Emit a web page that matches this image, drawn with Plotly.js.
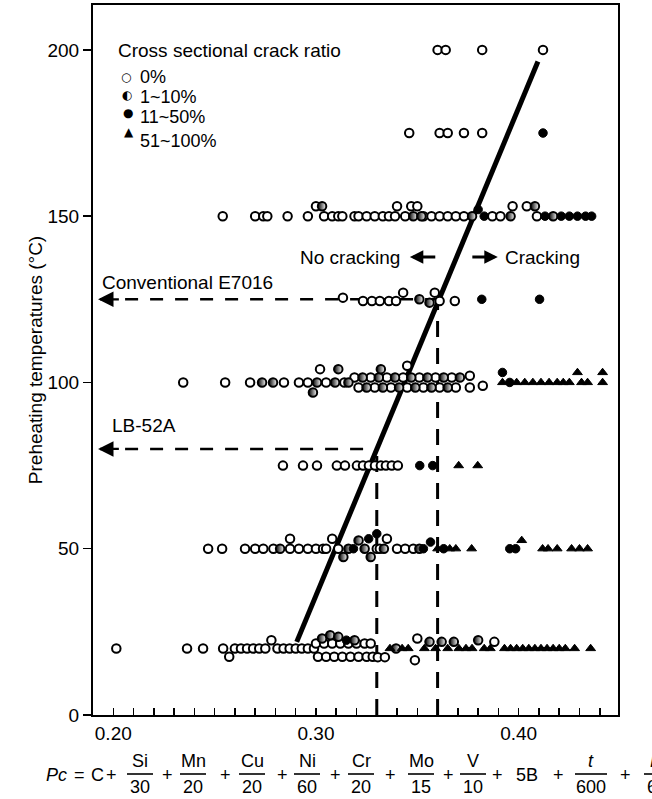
<!DOCTYPE html>
<html><head><meta charset="utf-8">
<script src="https://cdn.plot.ly/plotly-3.0.1.min.js"></script>
<style>html,body{margin:0;padding:0;background:#fff}#chart{width:652px;height:799px}</style>
</head><body><div id="chart"></div>
<script>
// ---- data: [Pc (%), preheating temperature (°C)] by cross sectional crack ratio ----
const crack0 = [
  [0.360,200],[0.364,200],[0.382,200],[0.412,200],
  [0.346,175],[0.361,175],[0.365,175],[0.373,175],[0.382,175],
  [0.254,150],[0.270,150],[0.274,150],[0.276,150],[0.286,150],[0.296,150],[0.304,150],[0.308,150],[0.311,150],[0.300,153],
  [0.313,150],[0.319,150],[0.321,150],[0.325,150],[0.329,150],[0.333,150],[0.336,150],[0.339,150],[0.344,150],[0.340,153],
  [0.347,153],[0.350,153],[0.353,150],[0.357,150],[0.361,150],[0.365,150],[0.369,150],[0.373,150],[0.387,150],[0.391,150],
  [0.397,153],[0.404,153],[0.409,150],
  [0.3133,125.5],[0.3232,124.5],[0.3276,124.5],[0.3315,124.5],[0.336,124.5],[0.3395,124.5],[0.343,127],[0.3586,127],[0.361,124.5],[0.3685,124.5],
  [0.2345,100],[0.2552,100],[0.2675,100],[0.2842,100],[0.2916,100],[0.2960,100],[0.3050,100],[0.3140,100],[0.3020,104],
  [0.319,101.5],[0.327,101.5],[0.335,101.5],[0.343,101.5],[0.351,101.5],[0.359,101.5],[0.367,101.5],
  [0.321,98.5],[0.329,98.5],[0.337,98.5],[0.345,98.5],[0.353,98.5],[0.361,98.5],[0.369,98.5],[0.345,105],
  [0.3759,98.5],[0.3759,102],[0.3823,99],
  [0.2837,75],[0.2936,75],[0.3005,75],[0.3103,75],[0.3143,75],[0.3202,75],[0.3232,75],[0.3261,75],[0.3291,75],[0.3320,75],
  [0.3345,75],[0.3374,75],[0.3404,75],
  [0.2468,50],[0.2537,50],[0.2650,50],[0.2700,50],[0.2740,50],[0.2790,50],[0.2872,50],[0.2872,53],[0.2916,50],[0.2960,50],
  [0.3000,50],[0.3035,50],[0.3050,50],[0.3080,53],[0.3110,50],[0.3300,50],[0.3315,50],[0.335,53],[0.340,50],[0.344,50],[0.348,50],
  [0.2015,20],[0.2364,20],[0.2443,20],[0.2542,20],[0.2572,17.5],[0.2600,20],[0.2630,20],[0.2660,20],[0.2690,20],[0.2720,20],
  [0.2750,20],[0.2780,22.5],[0.2810,20],[0.2840,20],[0.2870,20],[0.2900,20],[0.2930,20],[0.2960,20],[0.2990,20],
  [0.3000,21.5],[0.3040,21.5],[0.3080,21.5],[0.3120,21.5],[0.3160,21.5],[0.3200,21.5],[0.3240,21.5],[0.3270,21.5],
  [0.3010,17.5],[0.3050,17.5],[0.3090,17.5],[0.3130,17.5],[0.3170,17.5],[0.3210,17.5],[0.3250,17.5],[0.3280,17.5],
  [0.3305,17.4],[0.3340,17.4],[0.3500,23],[0.3488,16.5],[0.3880,22]
];
const crack1to10 = [
  [0.303,153],[0.348,150],[0.352,150],[0.377,150],[0.396,150],[0.417,150],[0.408,153],
  [0.351,125],[0.356,124],
  [0.2734,100],[0.2788,100],[0.3005,100],[0.3094,100],[0.3110,104],[0.2985,97],[0.3160,100],
  [0.323,101.5],[0.331,101.5],[0.339,101.5],[0.347,101.5],[0.355,101.5],[0.363,101.5],[0.371,101.5],
  [0.325,98.5],[0.333,98.5],[0.341,98.5],[0.349,98.5],[0.357,98.5],[0.365,98.5],[0.332,104],
  [0.2823,50],[0.3135,47.5],[0.3160,50],[0.3210,52.5],[0.3240,50],[0.3270,47.5],[0.351,50],[0.3335,50],
  [0.3030,23],[0.3070,24],[0.3110,23.5],[0.3190,22.5],[0.3395,20],[0.3560,22],[0.3620,22],[0.3680,22],[0.3800,22.5]
];
const crack11to50 = [
  [0.412,175],
  [0.383,150],[0.413,150],[0.421,150],[0.425,150],[0.429,150],[0.433,150],[0.436,150],[0.380,152],
  [0.3818,125],[0.4103,125],
  [0.3956,100],[0.392,103],
  [0.3512,75],[0.3576,75],
  [0.3185,50],[0.3260,53],[0.3300,54.5],[0.3530,50],[0.3565,52],[0.3630,50],[0.3956,50],[0.3985,50],
  [0.3150,22.5]
];
const crack51to100 = [
  [0.392,100],[0.399,100],[0.403,100],[0.407,100],[0.411,100],[0.415,100],[0.419,100],[0.422,100],[0.425,100],
  [0.429,103],[0.431,100],[0.434,100],[0.4414,100],[0.4414,103],
  [0.3704,75],[0.3798,75],
  [0.3600,50],[0.3660,50],[0.3690,50],[0.3768,50],[0.4015,52.5],[0.4118,50],[0.4145,50],[0.4190,50],[0.4261,50],[0.4300,50],[0.4340,50],
  [0.3365,20],[0.3425,20],[0.3455,20],[0.3535,20],[0.3590,20],[0.3650,20],[0.3705,20],[0.3740,20],[0.3770,20],[0.3830,20],[0.3860,20],
  [0.3930,20],[0.3960,20],[0.3990,20],[0.4020,20],[0.4050,20],[0.4080,20],[0.4110,20],[0.4140,20],[0.4170,20],[0.4200,20],[0.4230,20],
  [0.4276,20],[0.4355,20]
];
const boundaryPc = [0.2905, 0.4095];
const boundaryT = [22, 196.5];
const refNames = ['Conventional E7016', 'LB-52A'];
const refPc = [0.36, 0.33];
const refT = [125, 80];
const legendTitle = 'Cross sectional crack ratio';
const legendLabels = ['0%', '1~10%', '11~50%', '51~100%'];
const legendGlyphs = ['\u25CB', '\u25D0', '\u25CF', '\u25B2'];
const xTickVals = [0.20, 0.30, 0.40];
const xTickText = ['0.20', '0.30', '0.40'];
const yTickVals = [0, 50, 100, 150, 200];
const formulaFracs = [['Si','30'],['Mn','20'],['Cu','20'],['Ni','60'],['Cr','20'],['Mo','15'],['V','10'],['<i>t</i>','600'],['<i>H</i>','60']];

// ---- layout helpers (pixel -> paper) ----
const L = 93, R = 618, T = 5, B = 715;
const PX = p => (p - L) / (R - L);
const PY = p => (B - p) / (B - T);
const FONT = 'Liberation Sans, Arial, Helvetica, sans-serif';

const xs = a => a.map(d => d[0]);
const ys = a => a.map(d => d[1]);

const traces = [];
traces.push({x: boundaryPc, y: boundaryT, mode: 'lines', line: {color: '#000', width: 5}, hoverinfo: 'skip'});
for (let i = 0; i < refPc.length; i++) {
  traces.push({x: [0.1935, refPc[i]], y: [refT[i], refT[i]], mode: 'lines',
    line: {color: '#000', width: 2.5, dash: '13px,12px'}, hoverinfo: 'skip'});
  traces.push({x: [refPc[i], refPc[i]], y: [0, refT[i]], mode: 'lines',
    line: {color: '#000', width: 3, dash: '16px,11px'}, hoverinfo: 'skip'});
}
const mk = {size: 8.5, line: {color: '#000', width: 2}};
traces.push({x: xs(crack0), y: ys(crack0), mode: 'markers', name: legendLabels[0],
  marker: Object.assign({}, mk, {symbol: 'circle', color: '#fff'})});
traces.push({x: xs(crack1to10), y: ys(crack1to10), mode: 'markers', name: legendLabels[1],
  marker: Object.assign({}, mk, {symbol: 'circle', color: '#000', gradient: {type: 'horizontal', color: '#fff'}})});
traces.push({x: xs(crack11to50), y: ys(crack11to50), mode: 'markers', name: legendLabels[2],
  marker: {symbol: 'circle', size: 8.5, color: '#000', line: {color: '#000', width: 1}}});
traces.push({x: xs(crack51to100), y: ys(crack51to100), mode: 'markers', name: legendLabels[3],
  marker: {symbol: 'triangle-up', size: 8.5, color: '#000', line: {color: '#000', width: 1}}});

const ann = [];
const shapes = [];
// legend (manual)
ann.push({xref: 'paper', yref: 'paper', x: PX(116), y: PY(50), xanchor: 'left', yanchor: 'middle',
  text: legendTitle, showarrow: false, font: {size: 19}});
const legY = [77, 97, 117, 141];
const glyphY = [77, 95, 113, 132];
const glyphX = [126, 127, 128, 129];
for (let i = 0; i < 4; i++) {
  ann.push({xref: 'paper', yref: 'paper', x: PX(glyphX[i]), y: PY(glyphY[i]), xanchor: 'center', yanchor: 'middle',
    text: legendGlyphs[i], showarrow: false, font: {size: 12, family: 'DejaVu Sans'}});
  ann.push({xref: 'paper', yref: 'paper', x: PX(138), y: PY(legY[i]), xanchor: 'left', yanchor: 'middle',
    text: legendLabels[i], showarrow: false, font: {size: 18}});
}
// reference labels and arrows
const refLabelPos = [[0.1935, refT[0] + 5], [0.1985, refT[1] + 7]];
for (let i = 0; i < refPc.length; i++) {
  ann.push({x: refLabelPos[i][0], y: refLabelPos[i][1], xanchor: 'left', yanchor: 'middle',
    text: refNames[i], showarrow: false, font: {size: 19}});
  ann.push({x: 0.1925, y: refT[i], ax: 0.2035, ay: refT[i], axref: 'x', ayref: 'y', text: '',
    showarrow: true, arrowhead: 2, arrowsize: 1.4, arrowwidth: 2.2, arrowcolor: '#000'});
}
// cracking / no cracking
const crackY = 137.7;
ann.push({x: 0.3424, y: crackY, xanchor: 'right', yanchor: 'middle', text: 'No cracking', showarrow: false, font: {size: 19}});
ann.push({x: 0.3921, y: crackY, xanchor: 'left', yanchor: 'middle', text: 'Cracking', showarrow: false, font: {size: 19}});
ann.push({x: 0.3463, y: crackY, ax: 0.3596, ay: crackY, axref: 'x', ayref: 'y', text: '', showarrow: true,
  arrowhead: 2, arrowsize: 0.9, arrowwidth: 3, arrowcolor: '#000'});
ann.push({x: 0.3897, y: crackY, ax: 0.3764, ay: crackY, axref: 'x', ayref: 'y', text: '', showarrow: true,
  arrowhead: 2, arrowsize: 0.9, arrowwidth: 3, arrowcolor: '#000'});

// formula under x axis
const fracX = [140, 193, 252, 307, 361, 421, 473, 591, 657];
const plusX = [111, 167, 225, 282, 335, 390, 448, 497, 558, 625];
const numY = 761, barY = 774, denY = 787, midY = 775;
const FS = 18;
const txt = (px, py, t, extra) => ann.push(Object.assign({xref: 'paper', yref: 'paper', x: PX(px), y: PY(py),
  xanchor: 'center', yanchor: 'middle', text: t, showarrow: false, font: {size: FS}}, extra || {}));
txt(56, midY, '<i>Pc</i>');
txt(79, midY, '=');
txt(97, midY, 'C');
plusX.forEach(p => txt(p, midY, '+'));
txt(527, midY, '5B');
formulaFracs.forEach((f, i) => {
  txt(fracX[i], numY, f[0]);
  txt(fracX[i], denY, f[1]);
  const hw = f[1].length > 2 ? 16 : 13;
  shapes.push({type: 'line', xref: 'paper', yref: 'paper', x0: PX(fracX[i] - hw), x1: PX(fracX[i] + hw),
    y0: PY(barY), y1: PY(barY), line: {color: '#000', width: 1.6}});
});

const layout = {
  width: 652, height: 799,
  margin: {l: L, r: 652 - R, t: T, b: 799 - B},
  paper_bgcolor: '#fff', plot_bgcolor: '#fff',
  font: {family: FONT, size: 19, color: '#000'},
  showlegend: false,
  xaxis: {range: [0.190, 0.449], tickmode: 'array', tickvals: xTickVals, ticktext: xTickText,
    ticks: 'inside', ticklen: 7, tickwidth: 1.5, tickcolor: '#000', ticklabelstandoff: 0,
    minor: {tickmode: 'linear', tick0: 0.2, dtick: 0.01, ticks: 'inside', ticklen: 7, tickwidth: 1.5, tickcolor: '#000'},
    showline: true, mirror: true, linewidth: 2, linecolor: '#000', showgrid: false, zeroline: false,
    tickfont: {size: 19}},
  yaxis: {range: [0, 213.5], tickmode: 'array', tickvals: yTickVals,
    ticks: 'outside', ticklen: 8, tickwidth: 1.5, tickcolor: '#000',
    showline: true, mirror: true, linewidth: 2, linecolor: '#000', showgrid: false, zeroline: false,
    tickfont: {size: 19},
    title: {text: 'Preheating temperatures (°C)', font: {size: 19}, standoff: 0}},
  annotations: ann,
  shapes: shapes
};
Plotly.newPlot('chart', traces, layout, {staticPlot: true, displayModeBar: false});
</script></body></html>
